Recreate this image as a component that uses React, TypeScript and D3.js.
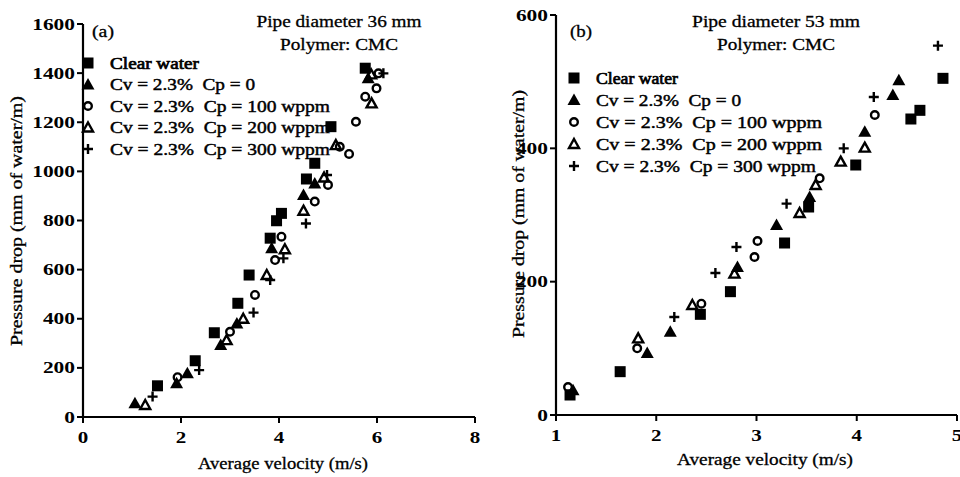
import React from 'react';
import * as d3 from 'd3';

// Panel (a): pipe diameter 36 mm  [velocity m/s, pressure drop mm water/m]
const clearA = [[1.52,127],[2.29,229],[2.68,343],[3.16,463],[3.39,578],[3.82,728],[3.95,799],[4.05,829],[4.56,969],[4.73,1033],[5.06,1182],[5.76,1420]];
const cp0A = [[1.06,56],[1.91,137],[2.13,178],[2.81,293],[3.14,381],[3.85,687],[4.5,904],[4.73,951],[5.82,1379]];
const cp100A = [[1.93,162],[3.0,347],[3.51,497],[3.92,639],[4.05,734],[4.73,877],[5.0,945],[5.24,1100],[5.43,1071],[5.57,1202],[5.76,1304],[5.99,1338],[6.03,1399]];
const cp200A = [[1.27,49],[2.93,313],[3.27,400],[3.75,578],[4.12,683],[4.5,840],[4.92,975],[5.16,1107],[5.89,1277],[5.88,1395]];
const cp300A = [[1.42,83],[2.37,191],[3.48,425],[3.82,558],[4.09,646],[4.55,788],[4.98,985],[6.13,1399]];

// Panel (b): pipe diameter 53 mm
const clearB = [[1.14,30],[1.64,65],[2.44,151],[2.74,185],[3.28,258],[3.52,312],[3.99,375],[4.54,444],[4.63,457],[4.86,505]];
const cp0B = [[1.17,37],[1.91,93],[2.14,125],[2.81,222],[3.2,285],[3.53,327],[4.08,425],[4.36,480],[4.42,502]];
const cp100B = [[1.12,42],[1.81,100],[2.45,167],[2.98,237],[3.01,261],[3.63,355],[4.18,450]];
const cp200B = [[1.82,115],[2.36,165],[2.78,212],[3.43,303],[3.59,345],[3.84,380],[4.08,401]];
const cp300B = [[2.18,147],[2.59,213],[2.80,252],[3.30,317],[3.87,400],[4.17,477],[4.81,554]];

const ticksXA = [0, 2, 4, 6, 8];
const ticksYA = [0, 200, 400, 600, 800, 1000, 1200, 1400, 1600];
const ticksXB = [1, 2, 3, 4, 5];
const ticksYB = [0, 200, 400, 600];

const legendLabels = ['Clear water', 'Cv = 2.3%\u00a0\u00a0Cp = 0', 'Cv = 2.3%\u00a0\u00a0Cp = 100 wppm', 'Cv = 2.3%\u00a0\u00a0Cp = 200 wppm', 'Cv = 2.3%\u00a0\u00a0Cp = 300 wppm'];
const kinds = ['square', 'tri', 'circle', 'otri', 'plus'];

const FONT = '"Liberation Serif", "Times New Roman", serif';

function Marker({ kind, x, y }: { kind: string; x: number; y: number }) {
  if (kind === 'square') return <rect x={x - 5.5} y={y - 5.5} width={11} height={11} fill="#000" />;
  if (kind === 'tri') return <path d={`M${x},${y - 6.5}L${x + 6.5},${y + 5}L${x - 6.5},${y + 5}Z`} fill="#000" />;
  if (kind === 'otri') return <path d={`M${x},${y - 5}L${x + 5},${y + 4}L${x - 5},${y + 4}Z`} fill="none" stroke="#000" strokeWidth={2.4} strokeLinejoin="miter" />;
  if (kind === 'circle') return <circle cx={x} cy={y} r={3.8} fill="none" stroke="#000" strokeWidth={2.4} />;
  return <path d={`M${x - 5},${y}H${x + 5}M${x},${y - 5}V${y + 5}`} stroke="#000" strokeWidth={2.4} />;
}

function Panel(props: {
  xs: d3.ScaleLinear<number, number>; ys: d3.ScaleLinear<number, number>;
  xt: number[]; yt: number[]; series: number[][][];
  tag: string; tagX: number; title: string; titleX: number; titleW: number; polyW: number;
  legX: number; legY0: number; legDy: number; legW: number[];
  xTitleX: number; xTitleY: number; xTitleW: number; yTitleX: number; yTitleY: number; yTitleW: number; xLabY: number;
}) {
  const { xs, ys, xt, yt, series } = props;
  const [x0, x1] = xs.range();
  const [y0, y1] = ys.range();
  const heavy = { stroke: '#000', strokeWidth: 0.3, lengthAdjust: 'spacingAndGlyphs' as const };
  return (
    <g fontFamily={FONT} fill="#000">
      <line x1={x0} x2={x1} y1={y0} y2={y0} stroke="#000" strokeWidth={2.2} />
      <line x1={x0} x2={x0} y1={y0 + 1} y2={y1} stroke="#000" strokeWidth={2.2} />
      {xt.map((t) => (
        <g key={'x' + t}>
          <line x1={xs(t)} x2={xs(t)} y1={y0} y2={y0 + 6} stroke="#000" strokeWidth={2} />
          <text x={xs(t)} y={props.xLabY} textAnchor="middle" fontSize={16} fontWeight="bold"
            textLength={String(t).length * 10.5} lengthAdjust="spacingAndGlyphs">{t}</text>
        </g>
      ))}
      {yt.map((t) => (
        <g key={'y' + t}>
          <line x1={x0 - 6} x2={x0} y1={ys(t)} y2={ys(t)} stroke="#000" strokeWidth={2} />
          <text x={x0 - 8} y={ys(t) + 5.5} textAnchor="end" fontSize={16} fontWeight="bold"
            textLength={String(t).length * 10.7} lengthAdjust="spacingAndGlyphs">{t}</text>
        </g>
      ))}
      <text x={props.tagX} y={37} fontSize={16.5} textLength={22} {...heavy}>{props.tag}</text>
      <text x={props.titleX} y={27} textAnchor="middle" fontSize={16.5} textLength={props.titleW} {...heavy}>{props.title}</text>
      <text x={props.titleX} y={50} textAnchor="middle" fontSize={16.5} textLength={props.polyW} {...heavy}>Polymer: CMC</text>
      {legendLabels.map((l, i) => (
        <g key={l}>
          <Marker kind={kinds[i]} x={props.legX} y={props.legY0 + i * props.legDy} />
          <text x={props.legX + 22} y={props.legY0 + i * props.legDy + 5.5} fontSize={16.5}
            textLength={props.legW[i]} {...heavy} strokeWidth={i === 0 ? 0.7 : 0.45}>{l}</text>
        </g>
      ))}
      {series.map((s, i) => s.map((p, j) => <Marker key={i + '-' + j} kind={kinds[i]} x={xs(p[0])} y={ys(p[1])} />))}
      <text x={props.xTitleX} y={props.xTitleY} textAnchor="middle" fontSize={16.5} textLength={props.xTitleW} {...heavy}>Average velocity (m/s)</text>
      <text transform={`translate(${props.yTitleX},${props.yTitleY}) rotate(-90)`} textAnchor="middle" fontSize={16.5}
        textLength={props.yTitleW} {...heavy}>Pressure drop (mm of water/m)</text>
    </g>
  );
}

export default function App() {
  const xA = d3.scaleLinear().domain([0, 8]).range([83, 475]);
  const yA = d3.scaleLinear().domain([0, 1600]).range([417, 24]);
  const xB = d3.scaleLinear().domain([1, 5]).range([556, 957]);
  const yB = d3.scaleLinear().domain([0, 600]).range([415, 15]);
  return (
    <svg width={960} height={477} style={{ position: 'absolute', left: 0, top: 0, background: '#fff' }}>
      <rect width={960} height={477} fill="#fff" />
      <Panel xs={xA} ys={yA} xt={ticksXA} yt={ticksYA} series={[clearA, cp0A, cp100A, cp200A, cp300A]}
        tag="(a)" tagX={92} title="Pipe diameter 36 mm" titleX={339} titleW={165} polyW={118}
        legX={88} legY0={63} legDy={21.5} legW={[89, 145, 220, 220, 220]}
        xTitleX={283} xTitleY={469} xTitleW={170} yTitleX={22} yTitleY={221} yTitleW={250} xLabY={443} />
      <Panel xs={xB} ys={yB} xt={ticksXB} yt={ticksYB} series={[clearB, cp0B, cp100B, cp200B, cp300B]}
        tag="(b)" tagX={570} title="Pipe diameter 53 mm" titleX={776} titleW={168} polyW={118}
        legX={574} legY0={78} legDy={22} legW={[82, 145, 226, 226, 220]}
        xTitleX={765} xTitleY={465} xTitleW={176} yTitleX={524} yTitleY={214} yTitleW={248} xLabY={441} />
    </svg>
  );
}
